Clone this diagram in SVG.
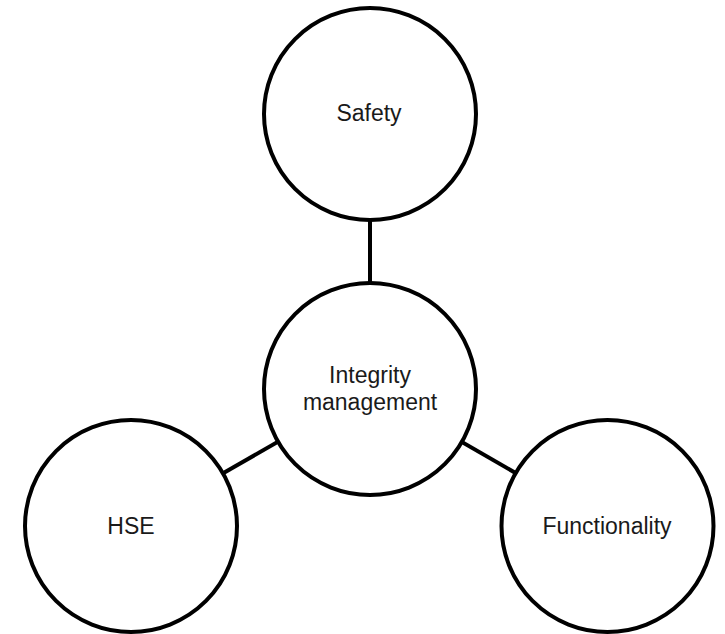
<svg xmlns="http://www.w3.org/2000/svg" width="725" height="634" viewBox="0 0 725 634">
  <style>
    .node circle { fill: #ffffff; stroke: #000000; stroke-width: 4; }
    .node text { font-family: "Liberation Sans", Arial, sans-serif; font-size: 23px; fill: #1a1a1a; text-anchor: middle; }
    .conn line { stroke: #000000; stroke-width: 4; }
  </style>
  <rect width="725" height="634" fill="#ffffff"/>
  <g id="connectors" class="conn">
    <line x1="370" y1="114" x2="370" y2="389"/>
    <line x1="370" y1="389" x2="131" y2="526"/>
    <line x1="370" y1="389" x2="607.5" y2="526"/>
  </g>
  <g id="safety" class="node">
    <circle cx="370" cy="114" r="106"/>
    <text x="369" y="121">Safety</text>
  </g>
  <g id="integrity" class="node">
    <circle cx="370" cy="389" r="106"/>
    <text x="370" y="383">Integrity</text>
    <text x="370" y="410">management</text>
  </g>
  <g id="hse" class="node">
    <circle cx="131" cy="526" r="106"/>
    <text x="131" y="534">HSE</text>
  </g>
  <g id="functionality" class="node">
    <circle cx="607.5" cy="526" r="106"/>
    <text x="607" y="534">Functionality</text>
  </g>
</svg>
